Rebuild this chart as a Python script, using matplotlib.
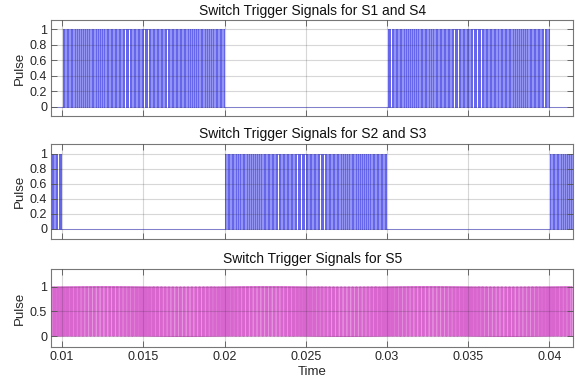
import numpy as np
import matplotlib
matplotlib.use("Agg")
import matplotlib.pyplot as plt

plt.rcParams['font.family'] = ['Liberation Sans', 'DejaVu Sans']

titles = ["Switch Trigger Signals for S1 and S4",
          "Switch Trigger Signals for S2 and S3",
          "Switch Trigger Signals for S5"]
x_ticks = [0.01, 0.015, 0.02, 0.025, 0.03, 0.035, 0.04]
x_tick_labels = ["0.01", "0.015", "0.02", "0.025", "0.03", "0.035", "0.04"]
y_ticks_top = [0, 0.2, 0.4, 0.6, 0.8, 1]
y_ticks_bottom = [0, 0.5, 1]
t_start, t_end = 0.00934, 0.04148
# active (switching) windows for each signal
active_s14 = [(0.010, 0.020), (0.030, 0.040)]
active_s23 = [(0.00934, 0.010), (0.020, 0.030), (0.040, 0.04148)]
active_s5 = [(0.00934, 0.04148)]
carrier_freq = 12000.0     # Hz, PWM carrier
fundamental_freq = 50.0    # Hz
mod_index = 0.9


def pwm_edges(windows, duty_from_sine=True):
    xs, ys = [t_start], [0.0]
    period = 1.0 / carrier_freq
    for (a, b) in windows:
        k0 = np.floor(a / period)
        t = k0 * period
        while t < b:
            tc = t + period / 2
            if duty_from_sine:
                d = 0.15 + 0.8 * mod_index * abs(np.sin(2 * np.pi * fundamental_freq * tc))
            else:
                d = 0.5 + 0.4 * mod_index * np.sin(4 * np.pi * fundamental_freq * tc)
            d = min(max(d, 0.05), 0.95)
            on = tc - d * period / 2
            off = tc + d * period / 2
            if on >= a and off <= b:
                xs += [on, on, off, off]
                ys += [0, 1, 1, 0]
            t += period
    xs.append(t_end)
    ys.append(0.0)
    return np.array(xs), np.array(ys)


fig = plt.figure(figsize=(5.88, 3.87), dpi=100)
positions = [[0.0873, 0.700, 0.888, 0.248],
             [0.0873, 0.383, 0.888, 0.245],
             [0.0873, 0.1026, 0.888, 0.203]]
colors = ["#0000e0", "#0000e0", "#c000b0"]
signals = [pwm_edges(active_s14), pwm_edges(active_s23), pwm_edges(active_s5, False)]
ylims = [(-0.12, 1.12), (-0.13, 1.13), (-0.22, 1.36)]
yticks = [y_ticks_top, y_ticks_top, y_ticks_bottom]

for i in range(3):
    ax = fig.add_axes(positions[i])
    xs, ys = signals[i]
    ax.plot(xs, ys, color=colors[i], lw=0.5, alpha=0.6)
    ax.set_xlim(t_start, t_end)
    ax.set_ylim(*ylims[i])
    ax.set_xticks(x_ticks)
    ax.set_yticks(yticks[i])
    ax.set_yticklabels([f"{v:g}" for v in yticks[i]])
    if i == 2:
        ax.set_xticklabels(x_tick_labels)
        ax.set_xlabel("Time", fontsize=9.5, color="#262626", labelpad=2)
    else:
        ax.set_xticklabels([])
    ax.set_ylabel("Pulse", fontsize=9.5, color="#262626", labelpad=3)
    ax.set_title(titles[i], fontsize=10, color="#111111", pad=4)
    ax.grid(True, color="#262626", alpha=0.18, lw=0.8)
    ax.set_axisbelow(False)
    ax.tick_params(direction="in", length=4, width=0.6, top=True, right=True,
                   labelsize=9, colors="#555555", labelcolor="#262626", pad=3)
    for s in ax.spines.values():
        s.set_color("#777777")
        s.set_linewidth(0.8)

fig.savefig("out.png", dpi=100)
